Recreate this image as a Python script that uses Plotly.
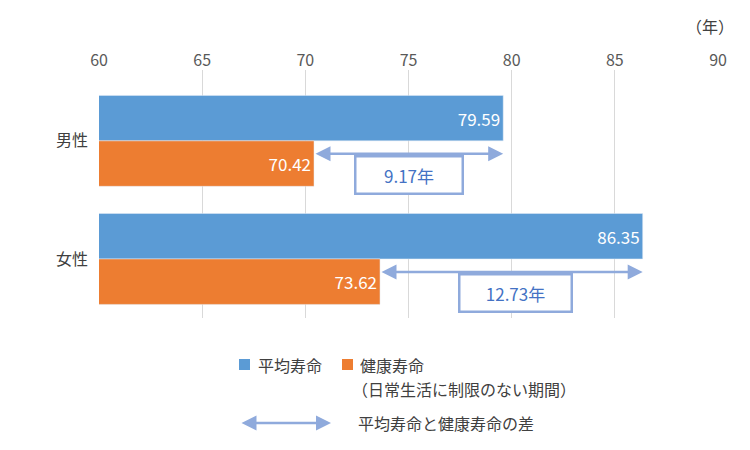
import plotly.graph_objects as go

categories = ["男性", "女性"]
life_expectancy = [79.59, 86.35]
healthy_life = [70.42, 73.62]
gap_labels = ["9.17年", "12.73年"]

BLUE = "#5b9bd5"
ORANGE = "#ed7d31"
ARROW = "#8faadc"
FONT = "Noto Sans CJK JP"

fig = go.Figure()
fig.add_trace(go.Bar(y=categories, x=life_expectancy, orientation="h",
                     marker_color=BLUE, text=[f"{v:.2f}" for v in life_expectancy],
                     textposition="inside", insidetextanchor="end",
                     textfont=dict(color="white", size=17), name="平均寿命"))
fig.add_trace(go.Bar(y=categories, x=healthy_life, orientation="h",
                     marker_color=ORANGE, text=[f"{v:.2f}" for v in healthy_life],
                     textposition="inside", insidetextanchor="end",
                     textfont=dict(color="white", size=17), name="健康寿命"))

# pixel -> paper helpers for the hand-made legend
def px(x):
    return (x - 91) / 619

def py(y):
    return (310 - y) / 248

ann = []
for i, (le, hl, lab) in enumerate(zip(life_expectancy, healthy_life, gap_labels)):
    ann.append(dict(x=le, y=i + 0.11, ax=hl, ay=i + 0.11, xref="x", yref="y",
                    axref="x", ayref="y", showarrow=True, arrowside="end+start",
                    arrowhead=2, arrowsize=1.2, arrowwidth=2.5, arrowcolor=ARROW, text=""))
    ann.append(dict(x=(le + hl) / 2 if i == 0 else (le + hl) / 2 + 0.2, y=i + 0.29,
                    xref="x", yref="y", showarrow=False, text=lab,
                    font=dict(size=17, color="#4472c4"), bordercolor=ARROW,
                    borderwidth=2.5, borderpad=5, width=95 if i == 0 else 100,
                    bgcolor="white"))

legend_text = [
    dict(x=px(248), y=py(357), text="平均寿命", xanchor="left"),
    dict(x=px(350), y=py(357), text="健康寿命", xanchor="left"),
    dict(x=px(342), y=py(381), text="（日常生活に制限のない期間）", xanchor="left"),
    dict(x=px(348), y=py(415), text="平均寿命と健康寿命の差", xanchor="left"),
    dict(x=px(728), y=py(18), text="（年）", xanchor="right"),
]
for a in legend_text:
    a.update(xref="paper", yref="paper", showarrow=False,
             font=dict(size=16, color="#404040"), yanchor="middle")
ann += legend_text
ann.append(dict(x=px(323), y=py(415), ax=-91, ay=0, xref="paper", yref="paper",
                axref="pixel", ayref="pixel", showarrow=True, arrowside="end+start",
                arrowhead=2, arrowsize=1.2, arrowwidth=2.5, arrowcolor=ARROW, text=""))

shapes = [
    dict(type="rect", xref="paper", yref="paper", x0=px(231), x1=px(242),
         y0=py(362), y1=py(351), fillcolor=BLUE, line_width=0),
    dict(type="rect", xref="paper", yref="paper", x0=px(334), x1=px(345),
         y0=py(362), y1=py(351), fillcolor=ORANGE, line_width=0),
]

fig.update_layout(
    width=750, height=450, margin=dict(l=91, r=40, t=62, b=140),
    plot_bgcolor="white", paper_bgcolor="white", barmode="group",
    bargap=0.23, bargroupgap=0, showlegend=False,
    font=dict(family=FONT, size=16, color="#595959"),
    annotations=ann, shapes=shapes,
)
fig.update_xaxes(range=[60, 90], dtick=5, side="top", showgrid=True,
                 gridcolor="#d9d9d9", zeroline=False, showline=False,
                 tickfont=dict(size=16, color="#595959"))
fig.update_yaxes(range=[1.5, -0.6], showgrid=False, ticks="", ticklabelstandoff=10,
                 tickfont=dict(size=16, color="#404040"))

fig.write_html("out.html")
